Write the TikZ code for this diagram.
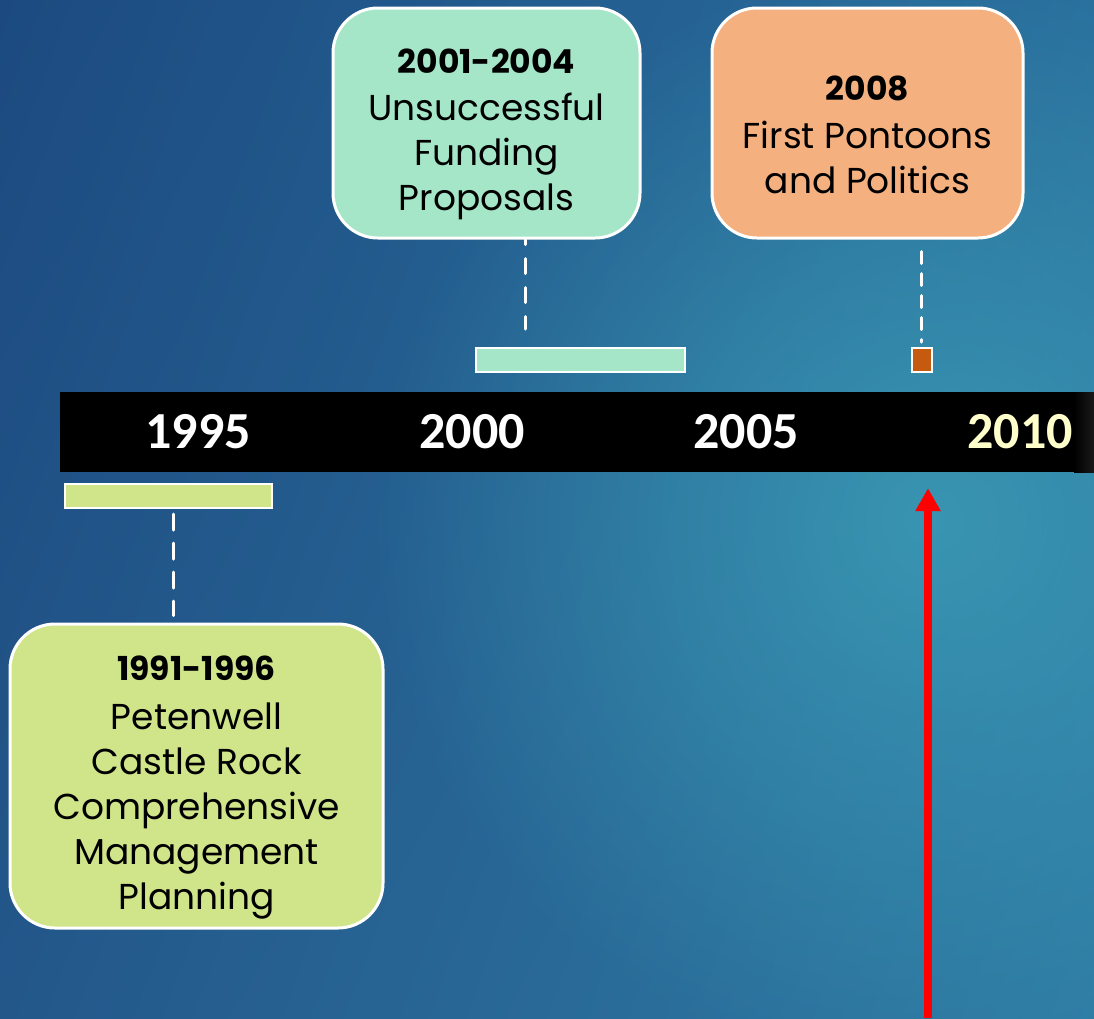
\documentclass[tikz,border=0pt]{standalone}
\usepackage{fontspec}
\setmainfont{Poppins}
\newfontfamily\yearfont{Carlito}
\usetikzlibrary{arrows.meta,fadings,shadings}

\definecolor{bgtl}{HTML}{1C4A80}
\definecolor{bgtr}{HTML}{2A709E}
\definecolor{bgbl}{HTML}{23578A}
\definecolor{bgbr}{HTML}{2F7CA5}
\definecolor{glow}{HTML}{3C9EB6}
\definecolor{planfill}{HTML}{D0E48A}
\definecolor{fundfill}{HTML}{A5E6C8}
\definecolor{pontfill}{HTML}{F4B07F}
\definecolor{pontbar}{HTML}{C55A11}
\definecolor{yearten}{HTML}{FFFFCC}

\tikzfading[name=glowfade, inner color=transparent!20, outer color=transparent!100]

\newcommand{\boxtitle}[1]{{\bfseries\fontsize{33}{38}\selectfont\rule{0pt}{48pt}#1}}

\begin{document}
\begin{tikzpicture}[x=1pt,y=-1pt,
    event box/.style={rectangle,rounded corners=45pt,draw=white,line width=3pt,
      align=center,inner sep=0pt,font=\fontsize{36}{45}\selectfont},
    event bar/.style={rectangle,draw=white,line width=2pt,inner sep=0pt,
      minimum height=24pt},
    year label/.style={text=white,font=\yearfont\bfseries\fontsize{52}{60}\selectfont},
    leader/.style={draw=white,line width=3pt,line cap=round}]
  \useasboundingbox (0,0) rectangle (1094,1018);
  % background
  \shade[upper left=bgtl,upper right=bgtr,lower left=bgbl,lower right=bgbr]
    (0,0) rectangle (1094,1018);
  \begin{scope}
    \clip (0,0) rectangle (1094,1018);
    \fill[glow,path fading=glowfade] (930,520) circle (560);
  \end{scope}

  % time axis
  \node[fill=black,minimum width=1034pt,minimum height=80pt,inner sep=0pt]
    (band) at (577,432) {};
  \shade[left color=black,right color=black!90] (1074,392) rectangle (1094,472);
  \node[year label] (y1995) at (198,432) {1995};
  \node[year label] (y2000) at (472,432) {2000};
  \node[year label] (y2005) at (746,432) {2005};
  \node[year label,text=yearten] (y2010) at (1020,432) {2010};

  % bars
  \node[event bar,fill=planfill,minimum width=207pt] (bar1996) at (168.5,496) {};
  \node[event bar,fill=fundfill,minimum width=209pt] (bar2004) at (580.5,360) {};
  \node[event bar,fill=pontbar,minimum width=20pt] (bar2008) at (921.5,360) {};

  % boxes
  \node[event box,fill=planfill,minimum width=373pt,minimum height=304pt]
    (box1996) at (196.5,776) {\boxtitle{1991-1996}\\[4pt]
      Petenwell\\Castle Rock\\Comprehensive\\Management\\Planning};
  \node[event box,fill=fundfill,minimum width=307pt,minimum height=230pt]
    (box2004) at (486.5,123) {\boxtitle{2001-2004}\\[2pt]
      Unsuccessful\\Funding\\Proposals};
  \node[event box,fill=pontfill,minimum width=311pt,minimum height=230pt]
    (box2008) at (867.5,123) {\boxtitle{2008}\\[3pt]
      First Pontoons\\and Politics};

  % leaders
  \coordinate (lead1996) at ([xshift=5pt]bar1996.south);
  \coordinate (lead2004) at ([xshift=39pt]box2004.south);
  \draw[leader,dash pattern=on 16pt off 13pt,shorten <=5pt,shorten >=7pt]
    (lead1996) -- (lead1996 |- box1996.north);
  \draw[leader,dash pattern=on 15pt off 14pt,dash phase=10pt,shorten >=18pt]
    (lead2004) -- (lead2004 |- bar2004.north);
  \draw[leader,dash pattern=on 12pt off 10pt,shorten <=12pt,shorten >=5pt]
    (box2008.south -| bar2008.north) -- (bar2008.north);

  % now
  \coordinate (now) at (928,1018);
  \draw[red,line width=8pt,-{Triangle[width=24pt,length=23pt]},shorten >=16pt]
    (now) -- (now |- band.south);
\end{tikzpicture}
\end{document}
